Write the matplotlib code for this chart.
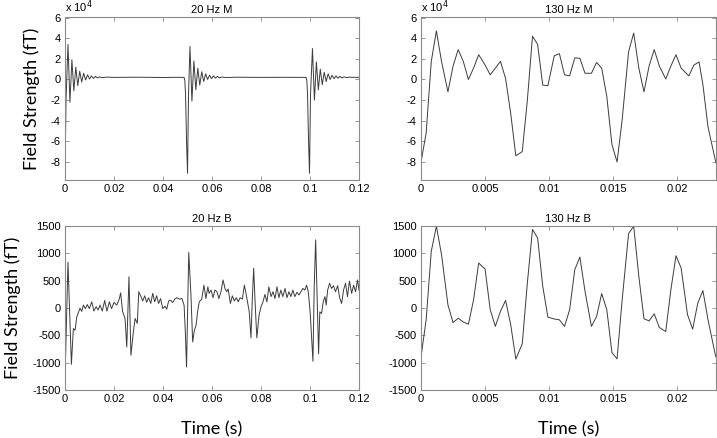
import numpy as np
import matplotlib
matplotlib.use("Agg")
import matplotlib.pyplot as plt
from matplotlib.ticker import FuncFormatter, MultipleLocator

plt.rcParams['axes.unicode_minus'] = False
plt.rcParams['font.family'] = ['Liberation Sans', 'DejaVu Sans']

# ---- 20 Hz M (fT) ----
m20_t = [0.0000, 0.0004, 0.0012, 0.0020, 0.0028, 0.0036, 0.0044, 0.0052, 0.0060,
         0.0068, 0.0076, 0.0084, 0.0092, 0.0100, 0.0108, 0.0116, 0.0124, 0.0132,
         0.0140, 0.0150, 0.0170, 0.0200, 0.0300, 0.0400, 0.0460, 0.0486,
         0.0489, 0.0492, 0.0496, 0.0500, 0.0504, 0.0510, 0.0518, 0.0526, 0.0534,
         0.0542, 0.0550, 0.0558, 0.0566, 0.0574, 0.0582, 0.0590, 0.0598, 0.0606,
         0.0614, 0.0622, 0.0630, 0.0640, 0.0655, 0.0700, 0.0800, 0.0900, 0.0970,
         0.0984, 0.0987, 0.0990, 0.0994, 0.0998, 0.1002, 0.1010, 0.1018, 0.1026,
         0.1034, 0.1042, 0.1050, 0.1058, 0.1066, 0.1074, 0.1082, 0.1090, 0.1098,
         0.1106, 0.1114, 0.1122, 0.1130, 0.1140, 0.1150, 0.1160, 0.1170, 0.1180,
         0.1190, 0.1200]
m20_v = [-91000, -20000, 34000, -22000, 19000, -11000, 12000, -6000, 8000,
         -2500, 6000, -500, 4500, 500, 3500, 1000, 3000, 1500,
         2500, 1800, 2300, 2000, 2200, 1900, 2100, 2000,
         -1000, -15000, -60000, -91000, -15000, 32000, -21000, 18000, -10000,
         11000, -5500, 7500, -2000, 5500, 0, 4200, 800, 3500,
         1200, 3000, 1600, 2400, 1900, 2200, 2000, 2100, 2000,
         2000, -1000, -15000, -60000, -91000, -15000, 30000, -20000, 17000,
         -10000, 10000, -5000, 7000, -2000, 5500, 0, 4000, 800,
         3500, 1200, 3000, 1500, 2500, 1800, 2300, 2000, 2200,
         2000, 2100]

# ---- 130 Hz M (fT) ----
m130_t = [0.0000, 0.0004, 0.0008, 0.0012, 0.0016, 0.0021, 0.0025, 0.0029, 0.0033,
          0.0037, 0.0041, 0.0045, 0.0050, 0.0054, 0.0058, 0.0062, 0.0066, 0.0070,
          0.0074, 0.0079, 0.0083, 0.0087, 0.0091, 0.0095, 0.0099, 0.0104, 0.0108,
          0.0112, 0.0116, 0.0120, 0.0124, 0.0128, 0.0133, 0.0137, 0.0141, 0.0145,
          0.0149, 0.0153, 0.0157, 0.0162, 0.0166, 0.0170, 0.0174, 0.0178, 0.0182,
          0.0186, 0.0191, 0.0195, 0.0199, 0.0203, 0.0209, 0.0213, 0.0217, 0.0220,
          0.0224, 0.0230]
m130_v = [-80000, -52000, 17500, 47000, 17500, -12000, 13000, 29000, 17500,
          0, 11000, 24000, 14000, 4500, 11000, 17500, 1000, -33000,
          -74000, -70000, -20000, 42000, 34000, -5500, -6000, 23000, 25000,
          4500, 3500, 21000, 20500, 6000, 6000, 16500, 11000, -16500,
          -63000, -80000, -39000, 27000, 45000, 11000, -12000, 13000, 29000,
          13000, 500, 13000, 24000, 11000, 3500, 14000, 17000, -5000,
          -46000, -80000]

# ---- 20 Hz B (fT) ----
b20_t = [0.0000, 0.0012, 0.0026, 0.0034, 0.0041, 0.0048, 0.0054, 0.0061, 0.0068,
         0.0075, 0.0083, 0.0091, 0.0099, 0.0109, 0.0118, 0.0127, 0.0135, 0.0143,
         0.0152, 0.0162, 0.0171, 0.0181, 0.0190, 0.0200, 0.0211, 0.0222, 0.0227,
         0.0235, 0.0245, 0.0252, 0.0261, 0.0269, 0.0279, 0.0286, 0.0295, 0.0301,
         0.0310, 0.0317, 0.0325, 0.0333, 0.0341, 0.0350, 0.0358, 0.0366, 0.0374,
         0.0382, 0.0390, 0.0399, 0.0408, 0.0415, 0.0423, 0.0431, 0.0439, 0.0448,
         0.0456, 0.0467, 0.0477, 0.0486, 0.0491, 0.0496, 0.0505, 0.0514, 0.0521,
         0.0528, 0.0535, 0.0541, 0.0548, 0.0558, 0.0567, 0.0575, 0.0583, 0.0588,
         0.0596, 0.0604, 0.0612, 0.0620, 0.0628, 0.0637, 0.0645, 0.0653, 0.0660,
         0.0666, 0.0675, 0.0683, 0.0691, 0.0699, 0.0707, 0.0715, 0.0724, 0.0732,
         0.0740, 0.0745, 0.0752, 0.0759, 0.0764, 0.0770, 0.0777, 0.0783, 0.0792,
         0.0800, 0.0808, 0.0816, 0.0824, 0.0832, 0.0841, 0.0849, 0.0857, 0.0865,
         0.0873, 0.0881, 0.0889, 0.0898, 0.0906, 0.0914, 0.0922, 0.0930, 0.0938,
         0.0947, 0.0955, 0.0963, 0.0971, 0.0979, 0.0986, 0.0993, 0.1001, 0.1006,
         0.1012, 0.1017, 0.1023, 0.1028, 0.1035, 0.1040, 0.1047, 0.1054, 0.1061,
         0.1066, 0.1072, 0.1080, 0.1088, 0.1096, 0.1104, 0.1113, 0.1121, 0.1129,
         0.1137, 0.1145, 0.1153, 0.1161, 0.1170, 0.1178, 0.1186, 0.1194, 0.1200]
b20_v = [-1290, 840, -1030, -375, -405, -160, -90, 0, -60,
         55, -10, 65, -10, 115, -55, 25, -35, 55,
         -55, 140, -55, 115, -10, 105, 55, 175, 280,
         -65, -190, -710, 575, -865, -435, -190, -280, 300,
         210, 130, 225, 105, 190, 85, 270, 115, 225,
         85, 175, -10, 35, -20, 130, 145, 100, 165,
         190, 165, 175, 55, -435, -1080, 1020, 240, -620,
         -405, -315, -70, 115, 165, 420, 175, 390, 270,
         330, 190, 330, 300, 175, 310, 515, 360, 300,
         350, 85, 225, 130, 190, 115, 190, 165, 420,
         240, 115, -70, -545, 115, 730, -10, -545, -130,
         25, 115, 250, 115, 390, 210, 300, 175, 390,
         190, 330, 210, 360, 190, 300, 210, 330, 210,
         290, 240, 300, 360, 330, 420, 300, -100, -500,
         -975, 360, 1250, 360, -835, -70, -100, 115, 210,
         55, 330, 455, 360, 410, 300, 410, 190, 85,
         330, 455, 210, 495, 270, 420, 300, 515, 330]

# ---- 130 Hz B (fT) ----
b130_t = m130_t[:50] + [0.0208, 0.0212, 0.0216, 0.0220, 0.0224, 0.0230]
b130_v = [-890, -215, 1040, 1500, 980, 60, -265, -185, -255,
          -295, 150, 825, 715, -30, -335, -60, 140, -305,
          -935, -655, 460, 1440, 1285, 400, -165, -200, -215,
          -335, -30, 705, 935, 305, -335, -155, 265, -30,
          -815, -930, 155, 1365, 1500, 580, -195, -235, -105,
          -355, -430, 335, 960, 735, -120, -385, 90, 320,
          -215, -890]

panels = [
    ("20 Hz M", m20_t, m20_v),
    ("130 Hz M", m130_t, m130_v),
    ("20 Hz B", b20_t, b20_v),
    ("130 Hz B", b130_t, b130_v),
]

fig = plt.figure(figsize=(7.17, 4.38), dpi=100)
rects = [
    [0.0907, 0.589, 0.410, 0.372],
    [0.5872, 0.589, 0.411, 0.372],
    [0.0907, 0.1096, 0.410, 0.374],
    [0.5872, 0.1096, 0.411, 0.374],
]

spine_col = '#8a8a8a'
for i, (title, t, v) in enumerate(panels):
    ax = fig.add_axes(rects[i])
    ax.plot(t, v, color='#3c3c3c', linewidth=0.7)
    ax.set_title(title, fontsize=8, pad=3)
    for s in ax.spines.values():
        s.set_color(spine_col)
        s.set_linewidth(0.8)
    ax.tick_params(direction='in', length=3, width=0.6, color=spine_col,
                   labelsize=8, top=True, right=True, pad=3)
    fmt = FuncFormatter(lambda x, p: '%g' % round(x, 6))
    if i % 2 == 0:
        ax.set_xlim(0, 0.12)
        ax.xaxis.set_major_locator(MultipleLocator(0.02))
    else:
        ax.set_xlim(0, 0.023)
        ax.xaxis.set_major_locator(MultipleLocator(0.005))
    ax.xaxis.set_major_formatter(fmt)
    if i < 2:
        ax.set_ylim(-97500, 60500)
        ax.set_yticks(np.arange(-80000, 60001, 20000))
        ax.yaxis.set_major_formatter(FuncFormatter(lambda y, p: '%g' % (y / 1e4)))
        ax.text(0, 1.01, 'x 10$^{4}$', transform=ax.transAxes, fontsize=8,
                ha='left', va='bottom')
    else:
        ax.set_ylim(-1500, 1500)
        ax.set_yticks(np.arange(-1500, 1501, 500))
        ax.yaxis.set_major_formatter(fmt)
        ax.set_xlabel('Time (s)', fontsize=13, family=['Lato', 'DejaVu Sans'],
                      labelpad=12)
    if i % 2 == 0:
        ax.set_ylabel('Field Strength (fT)', fontsize=13,
                      family=['Lato', 'DejaVu Sans'], labelpad=8)

fig.savefig('out.png', dpi=100)
